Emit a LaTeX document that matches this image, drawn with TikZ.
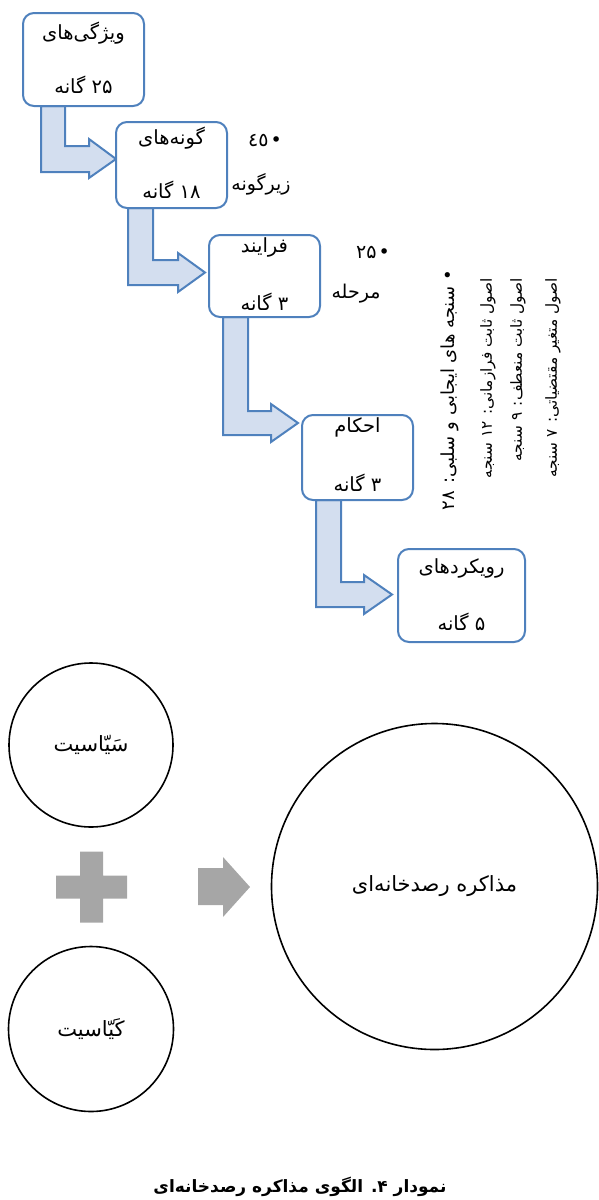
\documentclass[tikz,border=0pt]{standalone}
\usepackage{fontspec}
\newfontfamily\fa[Script=Arabic]{DejaVu Sans}
\TeXXeTstate=1
\definecolor{boxblue}{RGB}{79,129,189}
\definecolor{arrowfill}{RGB}{211,222,239}
\definecolor{plusgray}{RGB}{166,166,166}
\newcommand\RT[1]{\beginR #1\endR}
\tikzset{
  box/.style={draw=boxblue, line width=2pt, rounded corners=11pt, fill=white, inner sep=0pt},
  bent/.style={draw=boxblue, fill=arrowfill, line width=2pt, line join=miter},
  btxt/.style={font=\fa\fontsize{19.5}{22}\selectfont, inner sep=0pt},
  note/.style={font=\fa\fontsize{19}{22}\selectfont, inner sep=0pt},
  vtitle/.style={font=\fa\fontsize{18}{21}\selectfont, inner sep=0pt, rotate=90, anchor=east},
  vline/.style={font=\fa\fontsize{15.3}{18}\selectfont, inner sep=0pt, rotate=90, anchor=east},
  circ/.style={circle, draw=black, line width=1.6pt, inner sep=0pt, font=\fa\fontsize{21}{24}\selectfont},
  grayshape/.style={fill=plusgray, draw=none},
  caption/.style={font=\fa\bfseries\fontsize{17}{20}\selectfont, inner sep=0pt}
}
\begin{document}
\begin{tikzpicture}[x=1pt,y=-1pt]
\useasboundingbox (0,0) rectangle (598,1200);
% bent arrows
\draw[bent] (41,106) -- (65,106) -- (65,146) -- (89,146) -- (89,139) -- (116,159) -- (89,178) -- (89,172) -- (41,172) -- cycle;
\draw[bent] (128,208) -- (153,208) -- (153,260) -- (178,260) -- (178,253) -- (205,272.5) -- (178,292) -- (178,285) -- (128,285) -- cycle;
\draw[bent] (223,317) -- (248,317) -- (248,411) -- (271,411) -- (271,404) -- (298,423) -- (271,442) -- (271,435) -- (223,435) -- cycle;
\draw[bent] (316,500) -- (341,500) -- (341,582) -- (364,582) -- (364,575) -- (392,594.5) -- (364,614) -- (364,607) -- (316,607) -- cycle;
% boxes
\node[box, minimum width=121pt, minimum height=93pt] (b1) at (83.5,59.5) {};
\node[box, minimum width=111pt, minimum height=86pt] (b2) at (171.5,165) {};
\node[box, minimum width=111pt, minimum height=82pt] (b3) at (264.5,276) {};
\node[box, minimum width=111pt, minimum height=85pt] (b4) at (357.5,457.5) {};
\node[box, minimum width=127pt, minimum height=93pt] (b5) at (461.5,595.5) {};
% box texts
\node[btxt] (b1a) at (83.5,33) {\RT{ویژگی‌های}};
\node[btxt] (b1b) at (83.5,85) {\RT{۲۵ گانه}};
\node[btxt] (b2a) at (171.5,138) {\RT{گونه‌های}};
\node[btxt] (b2b) at (171.5,190) {\RT{۱۸ گانه}};
\node[btxt] (b3a) at (264.5,247) {\RT{فرایند}};
\node[btxt] (b3b) at (264.5,302) {\RT{۳ گانه}};
\node[btxt] (b4a) at (357.5,427) {\RT{احکام}};
\node[btxt] (b4b) at (357.5,483) {\RT{۳ گانه}};
\node[btxt] (b5a) at (461.5,568) {\RT{رویکردهای}};
\node[btxt] (b5b) at (461.5,622) {\RT{۵ گانه}};
% side notes
\node[note] (n1) at (265,140) {\RT{•\kern2pt ٤٥}};
\node[note] (n2) at (261,184) {\RT{زیرگونه}};
\node[note] (n3) at (373,252) {\RT{•\kern2pt ۲۵}};
\node[note] (n4) at (356,294) {\RT{مرحله}};
% vertical texts
\node[vtitle] (v1) at (450,270) {\RT{• سنجه های ایجابی و سلبی\kern0pt: ۲۸}};
\node[vline] (v2) at (488,278) {\RT{اصول ثابت فرازمانی\kern0pt: ۱۲ سنجه}};
\node[vline] (v3) at (518,278) {\RT{اصول ثابت منعطف\kern0pt: ۹ سنجه}};
\node[vline] (v4) at (553,278) {\RT{اصول متغیر مقتضیاتی\kern0pt: ۷ سنجه}};
% circles
\node[circ, minimum size=164pt] (c1) at (91,745) {\RT{سَیّاسیت}};
\node[circ, minimum size=165pt] (c2) at (91,1029) {\RT{کَیّاسیت}};
\node[circ, minimum size=326pt] (c3) at (434.5,886.5) {\RT{مذاکره رصدخانه‌ای}};
% plus sign
\fill[grayshape] (80,851.5) -- (103,851.5) -- (103,875.5) -- (127,875.5) -- (127,898.5) -- (103,898.5) -- (103,922.5) -- (80,922.5) -- (80,898.5) -- (56,898.5) -- (56,875.5) -- (80,875.5) -- cycle;
% gray arrow
\fill[grayshape] (198,868) -- (223,868) -- (223,857) -- (250,887) -- (223,917) -- (223,905) -- (198,905) -- cycle;
% caption
\node[caption] (cap) at (300,1187) {\RT{نمودار ۴\kern0pt. الگوی مذاکره رصدخانه‌ای}};
\end{tikzpicture}
\end{document}
